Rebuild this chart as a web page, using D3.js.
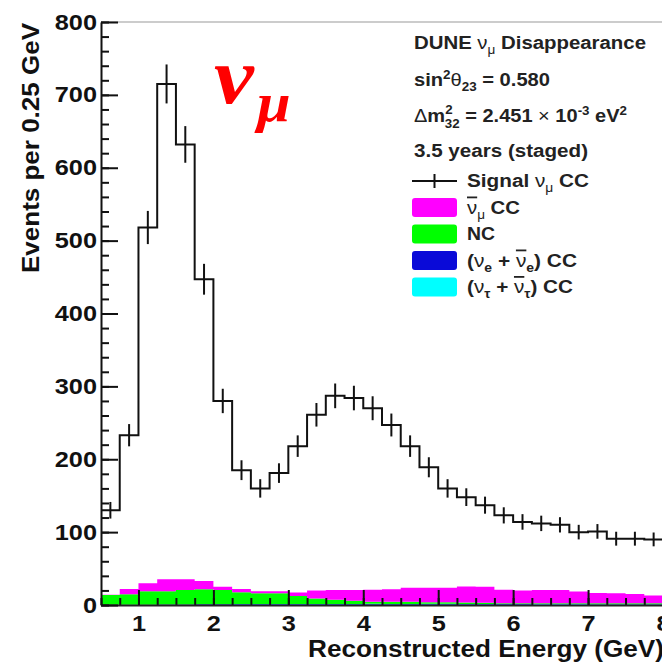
<!DOCTYPE html>
<html>
<head>
<meta charset="utf-8">
<script src="https://cdn.jsdelivr.net/npm/d3@7"></script>
<style>
  body { margin: 0; background: #fff; }
  text { font-family: "Liberation Sans", Arial, sans-serif; font-weight: bold; }
</style>
</head>
<body>
<div id="chart"></div>
<script>
// lower edges of the 0.25 GeV bins
const binLow = [0.5, 0.75, 1.0, 1.25, 1.5, 1.75, 2.0, 2.25, 2.5, 2.75,
                3.0, 3.25, 3.5, 3.75, 4.0, 4.25, 4.5, 4.75, 5.0, 5.25,
                5.5, 5.75, 6.0, 6.25, 6.5, 6.75, 7.0, 7.25, 7.5, 7.75];
const binWidth = 0.25;

const signal = [130, 233, 518, 715, 632, 447, 280, 185, 160, 181,
                218, 261, 287, 284, 270, 247, 218, 189, 160, 148,
                137, 123, 114, 112, 110, 100, 101, 91, 91, 90];

// backgrounds, bottom of the stack first
const nueCC = [0.2, 0.3, 0.4, 0.6, 0.8, 1.0, 1.1, 1.2, 1.2, 1.2,
               1.2, 1.2, 1.1, 1.1, 1.1, 1.0, 1.0, 1.0, 1.0, 0.9,
               0.9, 0.9, 0.9, 0.8, 0.8, 0.8, 0.7, 0.7, 0.7, 0.6];
const nutauCC = [0, 0, 0, 0, 0, 0, 0, 0.1, 0.1, 0.2,
                 0.3, 0.3, 0.4, 0.4, 0.5, 0.5, 0.5, 0.6, 0.6, 0.6,
                 0.6, 0.6, 0.6, 0.6, 0.6, 0.5, 0.5, 0.5, 0.5, 0.5];
const ncBkg = [13.5, 14.3, 18.6, 18.4, 19.7, 20.5, 19.4, 16.1, 14.7, 14.6,
               10.8, 7.5, 5.8, 4.5, 3.0, 3.1, 3.1, 2.1, 2.1, 1.8,
               1.5, 1.0, 1.0, 1.1, 1.1, 1.2, 1.3, 1.3, 1.3, 1.4];
const numubarCC = [0.3, 7.4, 11.0, 16.5, 15.0, 11.5, 4.5, 4.6, 3.0, 3.0,
                   4.7, 11.0, 13.2, 14.5, 16.4, 16.9, 18.9, 19.8, 19.8, 22.2,
                   22.0, 18.5, 17.5, 18.0, 18.0, 16.0, 14.0, 13.5, 12.5, 10.5];

const xTicks = [1, 2, 3, 4, 5, 6, 7, 8];
const yTicks = [0, 100, 200, 300, 400, 500, 600, 700, 800];

const width = 662, height = 665;
const plotLeft = 101, plotRight = 663, plotTop = 22, plotBottom = 605;

const svg = d3.select("#chart").append("svg")
    .attr("width", width)
    .attr("height", height);

const x = d3.scaleLinear().domain([0.5, 8]).range([plotLeft, plotRight]);
const y = d3.scaleLinear().domain([0, 800]).range([plotBottom, plotTop]);

svg.append("clipPath").attr("id", "plot-clip")
    .append("rect")
    .attr("x", plotLeft).attr("y", plotTop)
    .attr("width", plotRight - plotLeft).attr("height", plotBottom - plotTop);

const plot = svg.append("g").attr("clip-path", "url(#plot-clip)");

// stacked backgrounds
const keys = ["nue", "nutau", "nc", "numubar"];
const colors = { nue: "#0a0ad8", nutau: "#00ffff", nc: "#00ff00", numubar: "#ff00ff" };
const rows = binLow.map((b, i) => ({
    low: b, nue: nueCC[i], nutau: nutauCC[i], nc: ncBkg[i], numubar: numubarCC[i]
}));
const layers = d3.stack().keys(keys)(rows);

const area = d3.area()
    .curve(d3.curveStepAfter)
    .x(d => x(d.x))
    .y0(d => y(d.y0))
    .y1(d => y(d.y1));

layers.forEach(layer => {
    const pts = layer.map(d => ({ x: d.data.low, y0: d[0], y1: d[1] }));
    const last = pts[pts.length - 1];
    pts.push({ x: last.x + binWidth, y0: last.y0, y1: last.y1 });
    plot.append("path")
        .attr("d", area(pts))
        .attr("fill", colors[layer.key]);
});

// signal histogram
const sigPts = binLow.map((b, i) => ({ x: b, v: signal[i] }));
sigPts.push({ x: binLow[binLow.length - 1] + binWidth, v: signal[signal.length - 1] });

plot.append("path")
    .attr("d", d3.line().curve(d3.curveStepAfter).x(d => x(d.x)).y(d => y(d.v))(sigPts))
    .attr("fill", "none")
    .attr("stroke", "#111")
    .attr("stroke-width", 2);

plot.selectAll("line.err")
    .data(signal)
    .enter()
    .append("line")
    .attr("class", "err")
    .attr("x1", (d, i) => x(binLow[i] + binWidth / 2))
    .attr("x2", (d, i) => x(binLow[i] + binWidth / 2))
    .attr("y1", d => y(d + Math.sqrt(d)))
    .attr("y2", d => y(d - Math.sqrt(d)))
    .attr("stroke", "#111")
    .attr("stroke-width", 2);

// frame top
svg.append("line")
    .attr("x1", plotLeft).attr("x2", width)
    .attr("y1", plotTop).attr("y2", plotTop)
    .attr("stroke", "#999").attr("stroke-width", 1.2);

// x axis, ticks pointing up into the plot
const xAxis = svg.append("g")
    .attr("transform", `translate(0, ${plotBottom})`)
    .call(d3.axisBottom(x).tickValues(binLow.concat([8])).tickSize(-7).tickFormat(""));
xAxis.select(".domain").remove();
xAxis.selectAll("line").attr("stroke", "#111").attr("stroke-width", 2);

const xMajor = svg.append("g")
    .attr("transform", `translate(0, ${plotBottom})`)
    .call(d3.axisBottom(x).tickValues(xTicks).tickSize(-15).tickPadding(10).tickSizeOuter(0));
xMajor.select(".domain").attr("stroke", "#222").attr("stroke-width", 2);
xMajor.selectAll("line").attr("stroke", "#111").attr("stroke-width", 2);
xMajor.selectAll("text").attr("font-size", "22px").attr("fill", "#111")
    .attr("transform", "scale(1.15,1)");

// y axis, ticks pointing right
const yMinor = d3.range(0, 801, 20);
const yAxisMinor = svg.append("g")
    .attr("transform", `translate(${plotLeft}, 0)`)
    .call(d3.axisLeft(y).tickValues(yMinor).tickSize(-8).tickFormat(""));
yAxisMinor.select(".domain").remove();
yAxisMinor.selectAll("line").attr("stroke", "#111").attr("stroke-width", 2);

const yAxis = svg.append("g")
    .attr("transform", `translate(${plotLeft}, 0)`)
    .call(d3.axisLeft(y).tickValues(yTicks).tickSize(-17).tickPadding(3.5).tickSizeOuter(0));
yAxis.select(".domain").attr("stroke", "#111").attr("stroke-width", 2);
yAxis.selectAll("line").attr("stroke", "#111").attr("stroke-width", 2);
yAxis.selectAll("text").attr("font-size", "22px").attr("fill", "#111")
    .attr("transform", "scale(1.15,1)");

// axis titles
svg.append("text")
    .attr("x", 664)
    .attr("y", 657)
    .attr("text-anchor", "end")
    .attr("font-size", "23px")
    .attr("fill", "#111")
    .attr("textLength", 356)
    .attr("lengthAdjust", "spacingAndGlyphs")
    .text("Reconstructed Energy (GeV)");

svg.append("text")
    .attr("transform", `translate(39, ${plotTop + 1}) rotate(-90)`)
    .attr("text-anchor", "end")
    .attr("font-size", "23px")
    .attr("fill", "#111")
    .attr("textLength", 250)
    .attr("lengthAdjust", "spacingAndGlyphs")
    .text("Events per 0.25 GeV");

// big red label
const nuLabel = svg.append("text")
    .attr("transform", "translate(214, 103) scale(1.12, 1)")
    .attr("fill", "#ff0000")
    .style("font-family", "'Liberation Serif', serif")
    .style("font-style", "italic")
    .style("font-weight", "bold");
nuLabel.append("tspan").attr("font-size", "80px").text("ν");
nuLabel.append("tspan").attr("font-size", "54px").attr("dy", 18).attr("dx", 3).text("μ");

// legend header lines
const lx = 414, fs = "18px", ss = "12px";
function legendText(yy, len, xx) {
    return svg.append("text")
        .attr("x", xx || lx).attr("y", yy)
        .attr("font-size", fs).attr("fill", "#222")
        .attr("textLength", len)
        .attr("lengthAdjust", "spacingAndGlyphs");
}
function nuBar(t) {
    t.append("tspan").attr("font-weight", "normal")
        .style("text-decoration", "overline").text("ν");
}

const h1 = legendText(49, 232);
h1.append("tspan").text("DUNE ");
h1.append("tspan").attr("font-weight", "normal").text("ν");
h1.append("tspan").attr("dy", 5).attr("font-size", ss).attr("font-weight", "normal").text("μ");
h1.append("tspan").attr("dy", -5).text(" Disappearance");

const h2 = legendText(86, 136);
h2.append("tspan").text("sin");
h2.append("tspan").attr("dy", -7).attr("font-size", ss).text("2");
h2.append("tspan").attr("dy", 7).attr("font-weight", "normal").text("θ");
h2.append("tspan").attr("dy", 5).attr("font-size", ss).text("23");
h2.append("tspan").attr("dy", -5).text(" = 0.580");

const h3 = legendText(122, 213);
h3.append("tspan").attr("font-weight", "normal").text("Δ");
h3.append("tspan").text("m");
h3.append("tspan").attr("dy", -8).attr("font-size", ss).text("2");
h3.append("tspan").attr("dy", 14).attr("dx", -7).attr("font-size", ss).text("32");
h3.append("tspan").attr("dy", -6).text(" = 2.451 ");
h3.append("tspan").attr("font-weight", "normal").text("×");
h3.append("tspan").text(" 10");
h3.append("tspan").attr("dy", -7).attr("font-size", ss).text("-3");
h3.append("tspan").attr("dy", 7).text(" eV");
h3.append("tspan").attr("dy", -7).attr("font-size", ss).text("2");

legendText(157, 174).text("3.5 years (staged)");

// legend entries
const entryY = [181, 207.5, 234, 260.5, 287];
const boxX = 412, boxW = 45, boxH = 19, textX = 467;

svg.append("line").attr("x1", boxX).attr("x2", boxX + boxW)
    .attr("y1", entryY[0]).attr("y2", entryY[0]).attr("stroke", "#111").attr("stroke-width", 2);
svg.append("line").attr("x1", boxX + boxW / 2).attr("x2", boxX + boxW / 2)
    .attr("y1", entryY[0] - 7).attr("y2", entryY[0] + 7).attr("stroke", "#111").attr("stroke-width", 2);

const boxKeys = ["numubar", "nc", "nue", "nutau"];
boxKeys.forEach((k, i) => {
    svg.append("rect")
        .attr("x", boxX).attr("y", entryY[i + 1] - boxH / 2)
        .attr("width", boxW).attr("height", boxH)
        .attr("rx", 3)
        .attr("fill", colors[k]);
});

const entryLen = [122, 53, 28, 110, 106];
const e0 = legendText(entryY[0] + 6, entryLen[0], textX);
e0.append("tspan").text("Signal ");
e0.append("tspan").attr("font-weight", "normal").text("ν");
e0.append("tspan").attr("dy", 5).attr("font-size", ss).attr("font-weight", "normal").text("μ");
e0.append("tspan").attr("dy", -5).text(" CC");

const e1 = legendText(entryY[1] + 6, entryLen[1], textX);
nuBar(e1);
e1.append("tspan").attr("dy", 5).attr("font-size", ss).attr("font-weight", "normal").text("μ");
e1.append("tspan").attr("dy", -5).text(" CC");

legendText(entryY[2] + 6, entryLen[2], textX).text("NC");

[["e", 3], ["τ", 4]].forEach(([fl, i]) => {
    const t = legendText(entryY[i] + 6, entryLen[i], textX);
    t.append("tspan").text("(");
    t.append("tspan").attr("font-weight", "normal").text("ν");
    t.append("tspan").attr("dy", 5).attr("font-size", ss).text(fl);
    t.append("tspan").attr("dy", -5).text(" + ");
    nuBar(t);
    t.append("tspan").attr("dy", 5).attr("font-size", ss).text(fl);
    t.append("tspan").attr("dy", -5).text(") CC");
});
</script>
</body>
</html>
